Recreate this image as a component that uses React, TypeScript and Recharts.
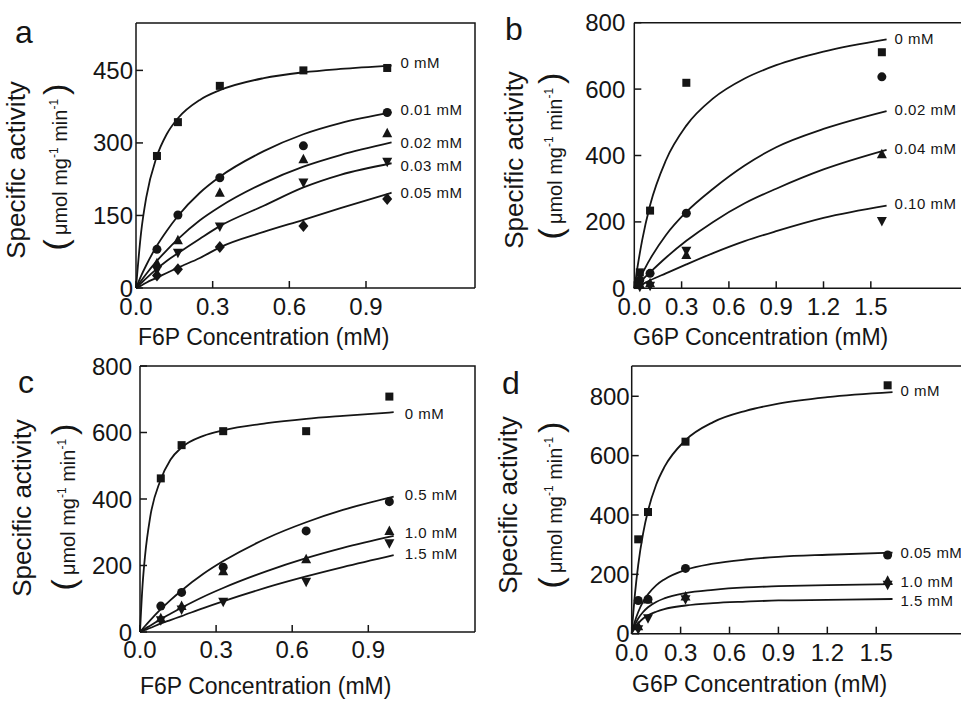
import { FC } from 'react'
import { ComposedChart, Line, Scatter, XAxis, YAxis } from 'recharts'

document.body.style.margin = '0'

// a: F6P, inhibitor 0 / 0.01 / 0.02 / 0.03 / 0.05 mM
const aConc = [0.082, 0.164, 0.328, 0.655, 0.983]
const a0 = [273, 343, 418, 450, 455]
const a001 = [80, 151, 228, 294, 363]
const a002 = [51, 99, 197, 266, 320]
const a003 = [37, 73, 127, 218, 261]
const a005 = [26, 39, 85, 128, 184]
const aFitX = [0, 0.02, 0.04, 0.08, 0.12, 0.164, 0.25, 0.328, 0.5, 0.655, 0.8, 1.0]
const aFit0 = [0, 115, 187, 270, 318, 351, 389, 409, 434, 446, 453, 460]
const aFit001 = [0, 25, 47, 86, 118, 149, 197, 230, 283, 318, 341, 363]
const aFit002 = [0, 15, 29, 55, 78, 101, 140, 168, 217, 251, 275, 301]
const aFit003 = [0, 10, 20, 39, 56, 72, 102, 128, 170, 208, 234, 258]
const aFit005 = [0, 5, 11, 21, 31, 42, 62, 84, 116, 141, 165, 197]
const aLabels = ['0 mM', '0.01 mM', '0.02 mM', '0.03 mM', '0.05 mM']

// b: G6P, inhibitor 0 / 0.02 / 0.04 / 0.10 mM
const bConc = [0.035, 0.1, 0.33, 1.57]
const b0 = [48, 234, 619, 711]
const b002 = [25, 45, 226, 637]
const b004 = [12, 15, 100, 404]
const b010 = [5, 8, 113, 203]
const bFitX = [0, 0.02, 0.05, 0.1, 0.2, 0.33, 0.5, 0.7, 0.9, 1.2, 1.6]
const bFit0 = [0, 63, 145, 250, 385, 490, 572, 632, 672, 713, 750]
const bFit002 = [0, 20, 45, 88, 160, 230, 300, 370, 425, 480, 534]
const bFit004 = [0, 10, 25, 48, 92, 143, 200, 256, 300, 358, 417]
const bFit010 = [0, 5, 12, 24, 45, 72, 106, 142, 172, 212, 249]
const bLabels = ['0 mM', '0.02 mM', '0.04 mM', '0.10 mM']

// c: F6P, effector 0 / 0.5 / 1.0 / 1.5 mM
const cConc = [0.082, 0.164, 0.328, 0.655, 0.983]
const c0 = [462, 562, 604, 604, 708]
const c05 = [78, 119, 195, 304, 392]
const c10 = [41, 78, 183, 219, 304]
const c15 = [35, 68, 91, 151, 267]
const cFitX = [0, 0.01, 0.02, 0.04, 0.08, 0.12, 0.164, 0.25, 0.33, 0.5, 0.655, 0.8, 1.0]
const cFit0 = [0, 140, 230, 345, 455, 518, 555, 590, 607, 628, 641, 650, 661]
const cFit05 = [0, 9, 18, 35, 67, 96, 125, 175, 214, 282, 330, 367, 407]
const cFit10 = [0, 5, 10, 19, 38, 55, 73, 106, 133, 183, 222, 253, 289]
const cFit15 = [0, 3, 6, 12, 25, 36, 48, 72, 93, 134, 167, 195, 231]
const cLabels = ['0 mM', '0.5 mM', '1.0 mM', '1.5 mM']

// d: G6P, effector 0 / 0.05 / 1.0 / 1.5 mM
const dConc = [0.04, 0.1, 0.33, 1.57]
const d0 = [318, 410, 647, 837]
const d005 = [112, 116, 220, 265]
const d10 = [25, 115, 125, 178]
const d15 = [15, 52, 116, 165]
const dFitX = [0, 0.01, 0.02, 0.04, 0.07, 0.1, 0.15, 0.2, 0.33, 0.5, 0.7, 0.9, 1.2, 1.6]
const dFit0 = [0, 72, 134, 232, 338, 414, 502, 561, 652, 713, 751, 775, 797, 814]
const dFit005 = [0, 22, 42, 73, 108, 133, 163, 183, 215, 236, 250, 259, 266, 273]
const dFit10 = [0, 16, 30, 51, 73, 89, 107, 119, 137, 148, 156, 160, 164, 167]
const dFit15 = [0, 11, 21, 35, 51, 62, 74, 83, 95, 103, 108, 112, 114, 117]
const dLabels = ['0 mM', '0.05 mM', '1.0 mM', '1.5 mM']

const INK = '#151515'
const FONT = '"Liberation Sans", Arial, sans-serif'
const Y_AXIS_W = 60
const X_AXIS_H = 30

type MarkerKind = 'square' | 'circle' | 'triangle' | 'triangleDown' | 'diamond'

const Marker = ({ cx, cy, kind }: { cx: number; cy: number; kind: MarkerKind }) => {
  if (cx == null || cy == null) return null
  switch (kind) {
    case 'square':
      return <rect x={cx - 4} y={cy - 4} width={8} height={8} fill={INK} />
    case 'circle':
      return <circle cx={cx} cy={cy} r={4.5} fill={INK} />
    case 'triangle':
      return <polygon points={`${cx},${cy - 5.5} ${cx + 5},${cy + 4} ${cx - 5},${cy + 4}`} fill={INK} />
    case 'triangleDown':
      return <polygon points={`${cx},${cy + 5.5} ${cx + 5},${cy - 4} ${cx - 5},${cy - 4}`} fill={INK} />
    default:
      return <polygon points={`${cx},${cy - 6} ${cx + 5},${cy} ${cx},${cy + 6} ${cx - 5},${cy}`} fill={INK} />
  }
}

const toPts = (xs: number[], ys: number[]) => ys.map((y, i) => ({ x: xs[i], y }))

type Series = { label: string; points: number[]; fit: number[]; marker: MarkerKind; dy: number }

type PanelProps = {
  letter: string
  letterPos: [number, number]
  xTitle: string
  xTitlePos: [number, number]
  yTitle1: [number, number]
  yTitle2: [number, number]
  left: number
  top: number
  width: number
  height: number
  margin: { top: number; right: number; bottom: number; left: number }
  xMax: number
  yMax: number
  xTicks: number[]
  yTicks: number[]
  yTickMargin: number
  xTickMargin: number
  labelDx: number
  conc: number[]
  fitX: number[]
  series: Series[]
}

const Panel: FC<PanelProps> = (p) => {
  const plotLeft = p.margin.left + Y_AXIS_W
  const plotW = p.width - plotLeft - p.margin.right
  const plotH = p.height - p.margin.top - p.margin.bottom - X_AXIS_H
  const plotBottom = p.margin.top + plotH

  const yLabel = () => (
    <g fontFamily={FONT} fill={INK}>
      <text x={p.letterPos[0]} y={p.letterPos[1]} fontSize={32}>{p.letter}</text>
      <text transform={`translate(${p.yTitle1[0]},${p.yTitle1[1]}) rotate(-90)`} textAnchor="middle" fontSize={26}>
        Specific activity
      </text>
      <text transform={`translate(${p.yTitle2[0]},${p.yTitle2[1]}) rotate(-90)`} textAnchor="middle" fontSize={20}>
        <tspan fontSize={34}>(</tspan>
        <tspan dx={4}>μmol mg</tspan>
        <tspan fontSize={12} dy={-9}>-1</tspan>
        <tspan dy={9}> min</tspan>
        <tspan fontSize={12} dy={-9}>-1</tspan>
        <tspan fontSize={34} dy={9} dx={4}>)</tspan>
      </text>
    </g>
  )
  // x title, plus the top and right edges of the plot box
  const xLabel = () => (
    <g>
      <path
        d={`M${plotLeft},${p.margin.top} L${plotLeft + plotW},${p.margin.top} L${plotLeft + plotW},${plotBottom}`}
        fill="none"
        stroke={INK}
        strokeWidth={1.5}
      />
      <text x={p.xTitlePos[0]} y={p.xTitlePos[1]} fontFamily={FONT} fontSize={23} fill={INK}>
        {p.xTitle}
      </text>
    </g>
  )
  const tick = { fontSize: 24, fill: INK, fontFamily: FONT }
  const last = p.fitX.length - 1

  return (
    <div style={{ position: 'absolute', left: p.left, top: p.top }}>
      <ComposedChart width={p.width} height={p.height} margin={p.margin}>
        <XAxis
          type="number"
          dataKey="x"
          domain={[0, p.xMax]}
          ticks={p.xTicks}
          interval={0}
          tickFormatter={(v: number) => v.toFixed(1)}
          tickSize={-7}
          tickMargin={p.xTickMargin}
          height={X_AXIS_H}
          tick={tick}
          axisLine={{ stroke: INK, strokeWidth: 1.5 }}
          tickLine={{ stroke: INK, strokeWidth: 1.5 }}
          label={xLabel}
        />
        <YAxis
          type="number"
          dataKey="y"
          domain={[0, p.yMax]}
          ticks={p.yTicks}
          interval={0}
          tickSize={-7}
          tickMargin={p.yTickMargin}
          width={Y_AXIS_W}
          tick={tick}
          axisLine={{ stroke: INK, strokeWidth: 1.5 }}
          tickLine={{ stroke: INK, strokeWidth: 1.5 }}
          label={yLabel}
        />

        {p.series.map((s) => (
          <Line
            key={`fit-${s.label}`}
            data={toPts(p.fitX, s.fit)}
            dataKey="y"
            type="monotone"
            stroke={INK}
            strokeWidth={1.8}
            dot={false}
            activeDot={false}
            isAnimationActive={false}
          />
        ))}

        {p.series.map((s) => (
          <Scatter
            key={`pts-${s.label}`}
            data={toPts(p.conc, s.points)}
            shape={(props: any) => <Marker cx={props.cx} cy={props.cy} kind={s.marker} />}
            isAnimationActive={false}
          />
        ))}

        {p.series.map((s) => (
          <Scatter
            key={`lbl-${s.label}`}
            data={[{ x: p.fitX[last], y: s.fit[last] }]}
            shape={(props: any) => (
              <text x={props.cx + p.labelDx} y={props.cy + s.dy} dominantBaseline="central"
                fontFamily={FONT} fontSize={15} letterSpacing={0.5} fill={INK}>
                {s.label}
              </text>
            )}
            isAnimationActive={false}
          />
        ))}
      </ComposedChart>
    </div>
  )
}

const App: FC = () => (
  <div style={{ position: 'relative', width: 961, height: 702, overflow: 'hidden', background: '#fff' }}>
    <Panel
      letter="a" letterPos={[15, 43]}
      xTitle="F6P Concentration (mM)" xTitlePos={[138, 345]}
      yTitle1={[25, 170]} yTitle2={[67, 167]}
      left={0} top={0} width={480} height={351}
      margin={{ top: 23, right: 5, bottom: 33, left: 76 }}
      xMax={1.3265} yMax={548}
      xTicks={[0, 0.3, 0.6, 0.9]} yTicks={[0, 150, 300, 450]}
      yTickMargin={10} xTickMargin={17} labelDx={9}
      conc={aConc} fitX={aFitX}
      series={[
        { label: aLabels[0], points: a0, fit: aFit0, marker: 'square', dy: -3 },
        { label: aLabels[1], points: a001, fit: aFit001, marker: 'circle', dy: -3 },
        { label: aLabels[2], points: a002, fit: aFit002, marker: 'triangle', dy: 0 },
        { label: aLabels[3], points: a003, fit: aFit003, marker: 'triangleDown', dy: 2 },
        { label: aLabels[4], points: a005, fit: aFit005, marker: 'diamond', dy: 0 },
      ]}
    />
    <Panel
      letter="b" letterPos={[25, 40]}
      xTitle="G6P Concentration (mM)" xTitlePos={[153, 345]}
      yTitle1={[43, 160]} yTitle2={[82, 156]}
      left={480} top={0} width={500} height={351}
      margin={{ top: 22.7, right: 7, bottom: 32.7, left: 94.3 }}
      xMax={2.148} yMax={800}
      xTicks={[0, 0.3, 0.6, 0.9, 1.2, 1.5]} yTicks={[0, 200, 400, 600, 800]}
      yTickMargin={16} xTickMargin={17} labelDx={8}
      conc={bConc} fitX={bFitX}
      series={[
        { label: bLabels[0], points: b0, fit: bFit0, marker: 'square', dy: -1 },
        { label: bLabels[1], points: b002, fit: bFit002, marker: 'circle', dy: -2 },
        { label: bLabels[2], points: b004, fit: bFit004, marker: 'triangle', dy: -1 },
        { label: bLabels[3], points: b010, fit: bFit010, marker: 'triangleDown', dy: -2 },
      ]}
    />
    <Panel
      letter="c" letterPos={[18, 42]}
      xTitle="F6P Concentration (mM)" xTitlePos={[140, 343]}
      yTitle1={[31, 157]} yTitle2={[75, 156]}
      left={0} top={351} width={480} height={351}
      margin={{ top: 15, right: 5, bottom: 40, left: 80 }}
      xMax={1.3206} yMax={800}
      xTicks={[0, 0.3, 0.6, 0.9]} yTicks={[0, 200, 400, 600, 800]}
      yTickMargin={15} xTickMargin={16} labelDx={11}
      conc={cConc} fitX={cFitX}
      series={[
        { label: cLabels[0], points: c0, fit: cFit0, marker: 'square', dy: 1 },
        { label: cLabels[1], points: c05, fit: cFit05, marker: 'circle', dy: -2 },
        { label: cLabels[2], points: c10, fit: cFit10, marker: 'triangle', dy: -3 },
        { label: cLabels[3], points: c15, fit: cFit15, marker: 'triangleDown', dy: -2 },
      ]}
    />
    <Panel
      letter="d" letterPos={[22, 43]}
      xTitle="G6P Concentration (mM)" xTitlePos={[152, 341]}
      yTitle1={[37, 154]} yTitle2={[82, 154]}
      left={480} top={351} width={500} height={351}
      margin={{ top: 15, right: 13.3, bottom: 38.3, left: 91.7 }}
      xMax={2.055} yMax={902}
      xTicks={[0, 0.3, 0.6, 0.9, 1.2, 1.5]} yTicks={[0, 200, 400, 600, 800]}
      yTickMargin={9} xTickMargin={17} labelDx={8}
      conc={dConc} fitX={dFitX}
      series={[
        { label: dLabels[0], points: d0, fit: dFit0, marker: 'square', dy: -2 },
        { label: dLabels[1], points: d005, fit: dFit005, marker: 'circle', dy: 0 },
        { label: dLabels[2], points: d10, fit: dFit10, marker: 'triangle', dy: -3 },
        { label: dLabels[3], points: d15, fit: dFit15, marker: 'triangleDown', dy: 2 },
      ]}
    />
  </div>
)

export default App
